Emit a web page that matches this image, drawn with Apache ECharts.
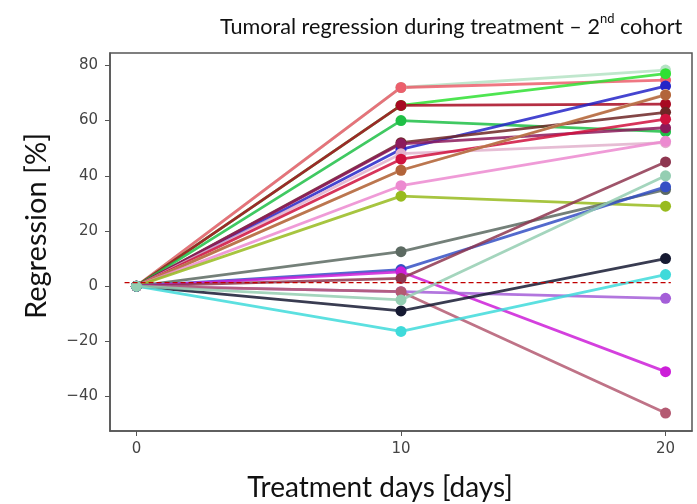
<!DOCTYPE html>
<html>
<head>
<meta charset="utf-8">
<script src="https://cdn.jsdelivr.net/npm/echarts@6/dist/echarts.min.js"></script>
<style>
html,body{margin:0;padding:0;background:#fff;}
#chart{width:697px;height:504px;}
</style>
</head>
<body>
<div id="chart"></div>
<script>
// treatment days on the x axis
const days = [0, 10, 20]
const xTicks = [0, 10, 20]
const yTicks = [-40, -20, 0, 20, 40, 60, 80]

// regression [%] per patient at day 0, 10, 20
const p01 = [0, 72.0, 78.3]
const p02 = [0, 72.0, 74.7]
const p03 = [0, 65.5, 77.0]
const p04 = [0, 65.5, 66.0]
const p05 = [0, 60.0, 56.0]
const p06 = [0, 49.6, 72.5]
const p07 = [0, 52.0, 63.0]
const p08 = [0, 51.6, 57.4]
const p09 = [0, 48.0, 52.0]
const p10 = [0, 46.0, 60.5]
const p11 = [0, 42.0, 69.5]
const p12 = [0, 42.0, 69.3]
const p13 = [0, 36.4, 52.5]
const p14 = [0, 32.6, 29.0]
const p15 = [0, 12.5, 35.0]
const p16 = [0, 6.0, 36.0]
const p17 = [0, 5.2, -31.0]
const p18 = [0, 2.8, 45.0]
const p19 = [0, -2.0, -4.4]
const p20 = [0, -2.0, -46.0]
const p21 = [0, -9.0, 10.0]
const p22 = [0, -16.4, 4.2]
const p23 = [0, -5.0, 40.0]

const patients = [p01,p02,p03,p04,p05,p06,p07,p08,p09,p10,p11,p12,p13,p14,p15,p16,p17,p18,p19,p20,p21,p22,p23]

// reference line
const refX = [-0.45, 20.2]
const refY = 1.3

const colors = [
  '#b5e3c4','#ec5f6c','#2fe033','#a80a22','#1fc046','#2424c8','#6e2626','#8c1a5c',
  '#e2b2cc','#d0123e','#f5dcc4','#b2643a','#ec8ad0','#98bb1e','#5c6a62','#3550c4',
  '#cc1ed8','#8e3650','#a45ed8','#b45a72','#161a32','#3fdada','#94ceb2'
]

const chart = echarts.init(document.getElementById('chart'))

const series = patients.map((vals, i) => ({
  type: 'line',
  data: vals.map((v, j) => [days[j], v]),
  symbol: 'circle',
  symbolSize: 11,
  lineStyle: { width: 2.8, color: colors[i], opacity: 0.85 },
  itemStyle: { color: colors[i] },
  emphasis: { disabled: true },
  z: 2
}))

series.push({
  type: 'line',
  data: refX.map(x => [x, refY]),
  symbol: 'none',
  lineStyle: { type: [5, 3], width: 1.2, color: '#c00000' },
  emphasis: { disabled: true },
  z: 3
})

const option = {
  animation: false,
  title: {
    left: 215,
    top: 7,
    text: '{a|Tumoral regression during treatment – 2}{s|nd}{a| cohort}',
    textStyle: {
      fontWeight: 'normal',
      rich: {
        a: { fontFamily: 'Lato', fontSize: 21.6, fontWeight: 'normal', color: '#111', lineHeight: 26, verticalAlign: 'bottom' },
        s: { fontFamily: 'Lato', fontSize: 13, fontWeight: 'normal', color: '#111', lineHeight: 26, verticalAlign: 'top', padding: [0, 0, 8, 0] }
      }
    }
  },
  grid: {
    left: 110, right: 5, top: 53, bottom: 73,
    outerBoundsMode: 'none',
    show: true, borderColor: '#555', borderWidth: 1.5
  },
  xAxis: {
    type: 'value',
    min: -1, max: 21,
    name: 'Treatment days [days]',
    nameLocation: 'middle',
    nameGap: 43,
    nameTextStyle: { fontFamily: 'Lato', fontSize: 28, color: '#111', padding: [0, 42, 0, 0] },
    axisLine: { show: true, onZero: false, lineStyle: { color: '#555', width: 1.5 } },
    axisTick: { show: true, customValues: xTicks, length: 5, lineStyle: { color: '#555' } },
    axisLabel: { customValues: xTicks, fontFamily: 'DejaVu Sans', fontSize: 15, color: '#444', margin: 11 },
    splitLine: { show: false }
  },
  yAxis: {
    type: 'value',
    min: -52.5, max: 84.5,
    name: 'Regression [%]',
    nameLocation: 'middle',
    nameRotate: 90,
    nameGap: 59,
    nameTextStyle: { fontFamily: 'Lato', fontSize: 29, color: '#111', padding: [0, 0, 0, 32] },
    axisLine: { show: true, onZero: false, lineStyle: { color: '#555', width: 1.5 } },
    axisTick: { show: true, customValues: yTicks, length: 5, lineStyle: { color: '#555' } },
    axisLabel: {
      customValues: yTicks, fontFamily: 'DejaVu Sans', fontSize: 15, color: '#444', margin: 12,
      formatter: v => (v < 0 ? '\u2212' + Math.abs(v) : String(v))
    },
    splitLine: { show: false }
  },
  series: series
}

chart.setOption(option)
</script>
</body>
</html>
